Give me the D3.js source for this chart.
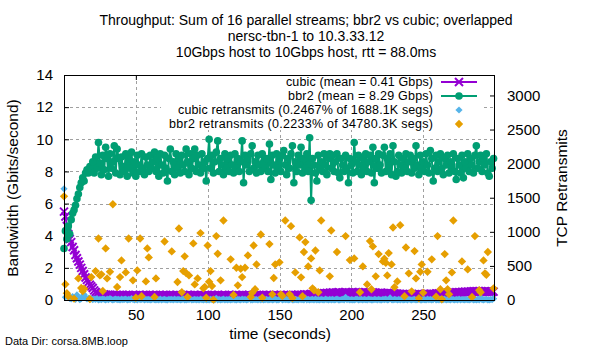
<!DOCTYPE html>
<html>
<head>
<meta charset="utf-8">
<script src="https://d3js.org/d3.v7.min.js"></script>
<style>
  body { margin: 0; background: #fff; }
  text { font-family: "Liberation Sans", Arial, sans-serif; fill: #000; }
</style>
</head>
<body>
<div id="chart"></div>
<script>
// Chart text
var titleLines = [
  "Throughput: Sum of 16 parallel streams; bbr2 vs cubic; overlapped",
  "nersc-tbn-1 to 10.3.33.12",
  "10Gbps host to 10Gbps host, rtt = 88.0ms"
];
var legendLabels = [
  "cubic (mean = 0.41 Gbps)",
  "bbr2 (mean = 8.29 Gbps)",
  "cubic retransmits (0.2467% of 1688.1K segs)",
  "bbr2 retransmits (0.2233% of 34780.3K segs)"
];
var xTicks = [50, 100, 150, 200, 250];
var yTicks = [0, 2, 4, 6, 8, 10, 12, 14];
var y2Ticks = [0, 500, 1000, 1500, 2000, 2500, 3000];

// Throughput per second (Gbps), t = 0..299
var cubicGbps = [
  5.5,5.2,4.6,4.1,3.8,3.6,3.3,3.1,2.8,2.6,2.4,2.2,2.0,1.8,1.6,1.4,1.25,1.1,0.95,0.85,
  0.75,0.6,0.5,0.42,0.36,0.33,0.35,0.3,0.34,0.32,0.29,0.33,0.31,0.28,0.32,0.3,0.27,0.31,0.29,0.32,
  0.28,0.31,0.27,0.3,0.26,0.31,0.29,0.27,0.32,0.28,0.3,0.26,0.29,0.31,0.27,0.3,0.28,0.32,0.27,0.29,
  0.31,0.27,0.3,0.28,0.32,0.26,0.29,0.31,0.27,0.3,0.28,0.31,0.27,0.29,0.32,0.28,0.3,0.27,0.31,0.29,
  0.27,0.3,0.28,0.32,0.29,0.26,0.31,0.28,0.3,0.27,0.29,0.32,0.28,0.3,0.26,0.31,0.29,0.27,0.3,0.28,
  0.31,0.27,0.29,0.32,0.28,0.3,0.27,0.31,0.29,0.26,0.3,0.28,0.32,0.27,0.29,0.31,0.28,0.3,0.27,0.29,
  0.32,0.28,0.3,0.27,0.31,0.29,0.26,0.3,0.28,0.32,0.27,0.29,0.31,0.28,0.3,0.27,0.32,0.29,0.28,0.31,
  0.27,0.3,0.28,0.32,0.29,0.27,0.31,0.28,0.3,0.26,0.29,0.32,0.28,0.3,0.27,0.31,0.29,0.28,0.32,0.3,
  0.28,0.31,0.29,0.33,0.3,0.32,0.29,0.34,0.31,0.35,0.32,0.34,0.37,0.33,0.36,0.38,0.35,0.39,0.37,0.41,
  0.38,0.42,0.4,0.44,0.41,0.45,0.42,0.47,0.43,0.46,0.44,0.48,0.45,0.43,0.47,0.44,0.49,0.45,0.47,0.43,
  0.46,0.48,0.44,0.47,0.45,0.49,0.43,0.46,0.48,0.44,0.47,0.45,0.42,0.46,0.44,0.47,0.43,0.45,0.41,0.44,
  0.42,0.45,0.4,0.43,0.41,0.44,0.39,0.42,0.4,0.38,0.41,0.37,0.39,0.36,0.38,0.35,0.37,0.34,0.36,0.33,
  0.35,0.32,0.36,0.33,0.35,0.32,0.34,0.37,0.33,0.36,0.34,0.38,0.35,0.37,0.34,0.39,0.36,0.38,0.35,0.4,
  0.37,0.41,0.38,0.42,0.4,0.44,0.41,0.45,0.42,0.46,0.43,0.47,0.44,0.48,0.45,0.49,0.46,0.5,0.47,0.51,
  0.48,0.52,0.49,0.53,0.5,0.54,0.51,0.55,0.52,0.54,0.5,0.53,0.51,0.55,0.52,0.54,0.5,0.53,0.49,0.52
];

var bbr2Gbps = [
  3.2,4.3,3.8,4.6,4.1,5.0,5.4,5.6,5.9,6.3,6.6,7.0,7.3,7.6,7.4,7.9,8.1,7.9,8.3,8.2,
  8.6,7.9,8.9,8.2,9.8,8.5,7.8,9.0,8.1,9.5,8.8,7.7,9.1,8.2,8.6,9.6,7.9,9.4,8.8,7.8,
  8.9,8.3,8.0,9.1,7.7,8.8,8.2,9.2,7.9,8.6,7.7,9.0,8.4,8.0,9.1,8.2,7.8,8.9,8.4,8.0,
  9.0,8.2,8.6,9.2,8.0,8.8,7.7,9.1,8.4,7.9,9.0,8.2,7.4,8.8,9.4,8.0,8.6,7.8,9.1,8.2,
  8.8,7.9,9.0,8.4,8.0,9.4,8.6,7.8,9.1,8.2,8.8,9.4,8.0,9.0,8.4,7.9,9.1,8.2,8.6,7.4,
  8.8,10.0,8.2,9.0,7.9,8.6,9.2,9.9,8.0,8.8,8.4,7.8,9.1,8.2,8.8,8.0,9.0,8.4,7.9,9.1,
  8.2,8.8,8.0,8.6,9.9,7.3,9.0,8.4,8.8,8.0,9.1,9.6,8.2,8.6,7.9,9.0,8.4,8.0,9.1,8.6,
  8.2,8.8,8.0,9.7,7.5,9.0,8.4,7.9,9.1,8.2,8.8,8.0,9.0,9.3,8.4,7.8,8.8,8.2,9.1,9.6,
  7.3,8.6,8.0,9.0,8.4,9.5,7.9,8.8,8.2,9.1,8.0,10.1,6.2,8.8,8.4,7.9,7.4,9.0,8.2,8.6,
  8.0,9.1,8.4,7.8,8.8,9.1,8.2,9.0,8.0,8.6,9.1,7.9,7.6,8.8,8.4,8.0,9.0,8.2,7.3,8.8,
  8.4,7.9,9.8,8.6,8.0,9.0,8.4,7.8,8.8,8.2,9.1,8.0,8.6,9.0,7.9,9.5,7.3,8.8,8.2,9.1,
  8.4,7.9,9.0,9.5,8.0,8.8,8.2,9.1,7.8,9.6,8.6,7.7,8.0,9.0,8.4,7.9,8.8,8.2,9.1,8.0,
  8.6,9.0,7.9,8.8,8.2,9.6,8.4,7.8,9.0,8.2,8.6,8.0,9.1,8.4,7.9,9.3,8.8,7.4,8.2,9.0,
  8.0,8.6,9.1,8.2,7.8,8.8,8.4,9.0,7.9,8.6,8.2,9.1,8.0,7.5,8.8,8.4,7.9,9.0,7.6,8.6,
  8.2,9.1,8.0,8.8,8.4,7.9,9.0,9.6,8.2,8.6,9.0,8.0,8.8,8.4,9.1,7.9,7.7,8.6,8.2,8.8
];

// Retransmits per second (segments)
var cubicRetrans = [
  1630,40,95,60,25,15,50,20,10,75,30,5,20,55,80,35,15,25,10,20,
  5,15,10,20,0,10,5,15,8,0,12,5,20,10,0,8,15,5,10,0,
  12,5,8,15,0,10,5,20,8,3,10,0,15,5,8,12,0,10,5,8,
  0,6,12,4,0,9,3,14,0,7,10,2,0,11,5,8,0,13,4,6,
  9,0,5,12,3,0,8,6,15,0,4,10,2,7,0,12,5,0,9,3,
  6,0,11,4,8,0,25,3,9,0,5,13,0,7,2,10,0,6,14,3,
  0,8,5,0,12,4,9,0,6,30,3,0,10,5,7,0,12,2,8,0,
  4,11,0,6,9,0,5,13,2,0,8,35,0,7,4,10,0,6,12,3,
  0,9,5,0,11,4,7,0,28,2,10,0,6,8,0,13,3,5,0,9,
  4,0,12,6,0,8,3,10,0,5,14,2,0,7,9,0,40,4,11,0,
  6,3,0,9,12,0,5,8,0,10,4,0,13,6,2,0,9,7,0,11,
  3,0,8,5,12,0,6,30,4,0,10,7,0,9,3,12,0,5,8,0,
  11,4,0,7,10,0,6,13,2,0,9,5,0,12,4,8,0,6,25,0,
  7,3,10,0,5,12,0,8,4,0,11,6,0,9,3,13,0,7,5,0,
  10,4,0,8,12,0,6,3,9,0,35,5,0,7,11,2,0,8,6,20
];

// bbr2 retransmits: only the seconds with visible counts
var bbr2RetransSec = [
  0,1,2,3,7,10,12,13,14,18,19,22,24,25,26,27,29,30,32,34,
  37,39,40,43,45,48,50,51,53,54,57,58,59,63,64,70,75,79,80,82,
  83,84,85,86,87,90,91,93,95,97,98,99,100,101,102,103,104,106,107,109,
  111,116,118,120,121,123,124,126,128,130,131,132,133,134,137,138,143,145,146,147,
  150,151,152,154,157,158,159,161,164,165,166,167,168,170,172,173,174,175,177,178,
  179,185,186,190,196,199,202,206,208,211,213,214,215,217,219,222,223,224,225,226,
  228,229,230,232,234,237,238,240,242,244,245,247,248,249,250,253,256,259,260,262,
  263,265,266,267,268,270,271,277,281,284,286,289,290,292,293,294,295,299
];
var bbr2RetransCount = [
  1520,230,100,54,20,317,175,130,165,15,336,424,903,361,376,132,757,317,414,1405,
  190,336,581,405,903,288,34,434,903,54,273,757,625,44,317,859,713,263,1049,113,
  424,640,395,44,361,830,229,317,981,171,190,34,800,268,424,205,5,937,678,288,
  1166,596,73,473,215,458,336,473,654,44,107,800,157,522,961,34,820,83,322,522,
  552,83,59,1166,83,1083,30,405,918,332,54,703,849,493,610,171,142,727,113,434,
  1166,347,1020,703,937,585,610,113,493,229,864,157,786,347,673,566,605,546,361,688,
  522,1064,186,273,1098,54,771,391,127,717,317,25,414,522,107,414,596,49,937,157,
  10,673,288,157,83,405,1166,566,449,44,937,142,113,581,391,371,703,171
];

var width = 600, height = 350;
var plot = { left: 64, right: 495, top: 75, bottom: 300 };

var colCubic = "#9400d3", colBbr2 = "#009e73",
  colCubicRt = "#56b4e9", colBbr2Rt = "#e69f00";

var svg = d3
  .select("#chart")
  .append("svg")
  .attr("width", width)
  .attr("height", height)
  .style("display", "block");

var x = d3.scaleLinear().domain([0, 300]).range([plot.left, plot.right]);
var y = d3.scaleLinear().domain([0, 14]).range([plot.bottom, plot.top]);
var y2 = d3.scaleLinear().domain([0, 3300]).range([plot.bottom, plot.top]);

// Title
svg
  .selectAll("text.title")
  .data(titleLines)
  .enter()
  .append("text")
  .attr("class", "title")
  .attr("x", 306)
  .attr("y", function (d, i) {
    return 25 + i * 16;
  })
  .attr("text-anchor", "middle")
  .style("font-size", "14px")
  .text(function (d) {
    return d;
  });

// Grid
var grid = svg
  .append("g")
  .attr("stroke", "#a0a0a0")
  .attr("stroke-width", 1)
  .attr("stroke-dasharray", "3,3");
grid
  .selectAll("line.gx")
  .data(xTicks)
  .enter()
  .append("line")
  .attr("x1", function (d) { return Math.round(x(d)) + 0.5; })
  .attr("x2", function (d) { return Math.round(x(d)) + 0.5; })
  .attr("y1", plot.top)
  .attr("y2", plot.bottom);
grid
  .selectAll("line.gy")
  .data(yTicks.slice(1, -1))
  .enter()
  .append("line")
  .attr("x1", plot.left)
  .attr("x2", plot.right)
  .attr("y1", function (d) { return Math.round(y(d)) + 0.5; })
  .attr("y2", function (d) { return Math.round(y(d)) + 0.5; });

// Axes with inward ticks
var axisFont = "15px";
var gx = svg
  .append("g")
  .attr("transform", "translate(0," + plot.bottom + ")")
  .call(d3.axisBottom(x).tickValues(xTicks).tickSizeInner(-5).tickSizeOuter(0).tickPadding(9));
var gxTop = svg
  .append("g")
  .attr("transform", "translate(0," + plot.top + ")")
  .call(d3.axisTop(x).tickValues(xTicks).tickSizeInner(-5).tickSizeOuter(0).tickFormat(""));
var gy = svg
  .append("g")
  .attr("transform", "translate(" + plot.left + ",0)")
  .call(d3.axisLeft(y).tickValues(yTicks).tickSizeInner(-5).tickSizeOuter(0).tickPadding(11));
var gy2 = svg
  .append("g")
  .attr("transform", "translate(" + plot.right + ",0)")
  .call(
    d3.axisRight(y2).tickValues(y2Ticks).tickFormat(d3.format("d"))
      .tickSizeInner(-5).tickSizeOuter(0).tickPadding(12)
  );

[gx, gxTop, gy, gy2].forEach(function (g) {
  g.select(".domain").remove();
  g.selectAll("line").attr("stroke", "#000");
  g.selectAll("text")
    .style("font-family", "'Liberation Sans', Arial, sans-serif")
    .style("font-size", axisFont)
    .attr("fill", "#000");
});

// Axis labels
svg
  .append("text")
  .attr("transform", "translate(18,188) rotate(-90)")
  .attr("text-anchor", "middle")
  .style("font-size", "15.5px")
  .text("Bandwidth (Gbits/second)");
svg
  .append("text")
  .attr("transform", "translate(567,188) rotate(-90)")
  .attr("text-anchor", "middle")
  .style("font-size", "15.5px")
  .text("TCP Retransmits");
svg
  .append("text")
  .attr("x", 280)
  .attr("y", 339)
  .attr("text-anchor", "middle")
  .style("font-size", "15.5px")
  .text("time (seconds)");
svg
  .append("text")
  .attr("x", 5)
  .attr("y", 345)
  .style("font-size", "11px")
  .text("Data Dir: corsa.8MB.loop");

// Series
svg
  .append("clipPath")
  .attr("id", "plotclip")
  .append("rect")
  .attr("x", plot.left)
  .attr("y", plot.top)
  .attr("width", plot.right - plot.left)
  .attr("height", plot.bottom - plot.top);

var crossPath = "M-4,-4L4,4M-4,4L4,-4";
function diamond(r) {
  return "M0," + -r + "L" + r + ",0L0," + r + "L" + -r + ",0Z";
}

function drawThroughput(values, color, kind) {
  var line = d3
    .line()
    .x(function (d, i) { return x(i); })
    .y(function (d) { return y(d); });
  svg
    .append("path")
    .datum(values)
    .attr("clip-path", "url(#plotclip)")
    .attr("fill", "none")
    .attr("stroke", color)
    .attr("stroke-width", 2)
    .attr("d", line);
  var pts = svg
    .append("g")
    .selectAll("g")
    .data(values)
    .enter()
    .append("g")
    .attr("transform", function (d, i) {
      return "translate(" + x(i) + "," + y(d) + ")";
    });
  if (kind === "cross") {
    pts.append("path").attr("d", crossPath).attr("stroke", color).attr("stroke-width", 2);
  } else {
    pts.append("circle").attr("r", 3.8).attr("fill", color);
  }
}

drawThroughput(cubicGbps, colCubic, "cross");
drawThroughput(bbr2Gbps, colBbr2, "circle");

svg
  .append("g")
  .selectAll("path")
  .data(cubicRetrans)
  .enter()
  .append("path")
  .attr("d", diamond(3.6))
  .attr("fill", colCubicRt)
  .attr("transform", function (d, i) {
    return "translate(" + x(i) + "," + y2(d) + ")";
  });

svg
  .append("g")
  .selectAll("path")
  .data(bbr2RetransCount)
  .enter()
  .append("path")
  .attr("d", diamond(4.2))
  .attr("fill", colBbr2Rt)
  .attr("transform", function (d, i) {
    return "translate(" + x(bbr2RetransSec[i]) + "," + y2(d) + ")";
  });

// Legend (opaque box)
var legend = svg.append("g");
legend
  .append("rect")
  .attr("x", 161)
  .attr("y", 76)
  .attr("width", 323)
  .attr("height", 54)
  .attr("fill", "#fff");
var rows = legend
  .selectAll("g.row")
  .data(legendLabels)
  .enter()
  .append("g")
  .attr("class", "row")
  .attr("transform", function (d, i) {
    return "translate(0," + (82 + i * 14) + ")";
  });
rows
  .append("text")
  .attr("x", 433)
  .attr("dy", "0.35em")
  .attr("text-anchor", "end")
  .style("font-size", "12.5px")
  .attr("textLength", function (d, i) { return [147, 145, 255, 264][i]; })
  .attr("lengthAdjust", "spacing")
  .text(function (d) { return d; });
rows.filter(function (d, i) { return i < 2; })
  .append("line")
  .attr("x1", 441)
  .attr("x2", 477)
  .attr("stroke", function (d, i) { return i === 0 ? colCubic : colBbr2; })
  .attr("stroke-width", 2);
rows.filter(function (d, i) { return i === 0; })
  .append("path")
  .attr("transform", "translate(459,0)")
  .attr("d", crossPath)
  .attr("stroke", colCubic)
  .attr("stroke-width", 2);
rows.filter(function (d, i) { return i === 1; })
  .append("circle")
  .attr("cx", 459)
  .attr("r", 3.8)
  .attr("fill", colBbr2);
rows.filter(function (d, i) { return i >= 2; })
  .append("path")
  .attr("transform", "translate(459,0)")
  .attr("d", function (d, i) { return diamond(i === 0 ? 3.6 : 4.2); })
  .attr("fill", function (d, i) { return i === 0 ? colCubicRt : colBbr2Rt; });

// Border
svg
  .append("rect")
  .attr("x", plot.left + 0.5)
  .attr("y", plot.top + 0.5)
  .attr("width", plot.right - plot.left - 1)
  .attr("height", plot.bottom - plot.top)
  .attr("fill", "none")
  .attr("stroke", "#000")
  .attr("stroke-width", 1);
</script>
</body>
</html>
